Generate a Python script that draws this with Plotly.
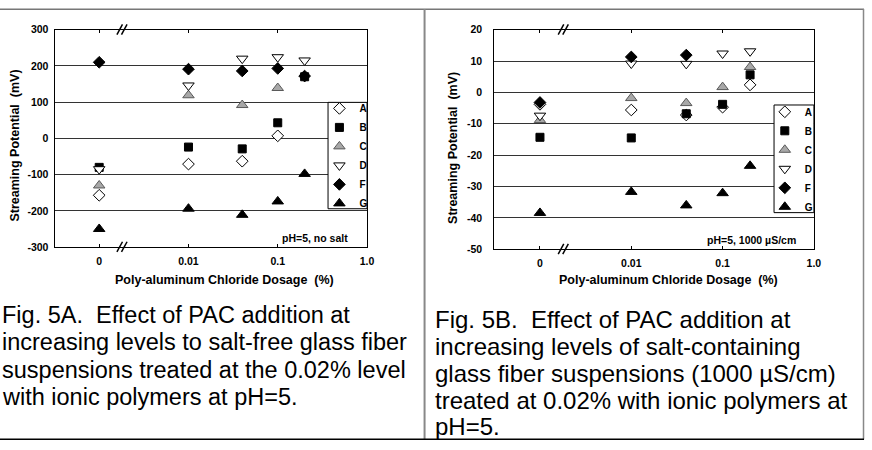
import math
import plotly.graph_objects as go

# ---------------- data ----------------
DOSE = [0, 0.01, 0.04, 0.1, 0.2]          # PAC dosage (%)
ZERO_POS = 0.001                            # where the "0" dose is drawn on the log axis
X_TICKVALS = [0.001, 0.01, 0.1, 1.0]
X_TICKTEXT = ["0", "0.01", "0.1", "1.0"]
SERIES = ["A", "B", "C", "D", "F", "G"]

# Fig. 5A  pH=5, no salt
A_5A = [-157, -71, -63, 7, None]
B_5A = [-80, -24, -29, 43, 170]
C_5A = [-130, 119, 92, 139, None]
D_5A = [-85, 146, 220, 224, 215]
F_5A = [210, 191, 186, 193, 172]
G_5A = [-250, -194, -211, -174, -98]

# Fig. 5B  pH=5, 1000 uS/cm
A_5B = [-3.8, -5.6, -7.2, -4.7, 2.4]
B_5B = [-14.3, -14.5, -6.8, -3.8, 5.6]
C_5B = [-8.8, -1.8, -3.4, 1.7, 8.1]
D_5B = [-7.4, 9.2, 9.1, 12.4, 13.1]
F_5B = [-3.2, 11.3, 11.9, None, None]
G_5B = [-38.4, -31.7, -36.0, -32.1, -23.4]

Y_5A_TICKS = [-300, -200, -100, 0, 100, 200, 300]
Y_5B_TICKS = [-50, -40, -30, -20, -10, 0, 10, 20]
BREAK_AT = 0.0018   # dose position of the axis-break marks
X_RANGE = [-3.5, 0.0]

CAPTION_A = ["Fig. 5A.  Effect of PAC addition at",
             "increasing levels to salt-free glass fiber",
             "suspensions treated at the 0.02% level",
             "with ionic polymers at pH=5."]
CAPTION_B = ["Fig. 5B.  Effect of PAC addition at",
             "increasing levels of salt-containing",
             "glass fiber suspensions (1000 \u00b5S/cm)",
             "treated at 0.02% with ionic polymers at",
             "pH=5."]

# ---------------- styles ----------------
W, H = 872, 450
FONT = "Liberation Sans, Arial, sans-serif"
STYLE = {
    "A": dict(symbol="diamond", size=9, color="white", line=dict(color="black", width=1)),
    "B": dict(symbol="square", size=8, color="black", line=dict(color="black", width=1)),
    "C": dict(symbol="triangle-up", size=10, color="#a8a8a8", line=dict(color="#5a5a5a", width=1)),
    "D": dict(symbol="triangle-down", size=10, color="white", line=dict(color="black", width=1)),
    "F": dict(symbol="diamond", size=9, color="black", line=dict(color="black", width=1)),
    "G": dict(symbol="triangle-up", size=10, color="black", line=dict(color="black", width=1)),
}

def px(x):
    return x / W

def py(y):
    return 1 - y / H

# plot-area pixel boxes (left, right, top, bottom)
BOX_A = (55, 370, 24.3, 247.7)
BOX_B = (498.3, 820.5, 24.3, 250)

xplot = [ZERO_POS if d == 0 else d for d in DOSE]

fig = go.Figure()
data_a = dict(zip(SERIES, [A_5A, B_5A, C_5A, D_5A, F_5A, G_5A]))
data_b = dict(zip(SERIES, [A_5B, B_5B, C_5B, D_5B, F_5B, G_5B]))
for name in SERIES:
    fig.add_trace(go.Scatter(x=xplot, y=data_a[name], mode="markers", name=name,
                             marker=STYLE[name], xaxis="x", yaxis="y",
                             legend="legend", cliponaxis=False))
for name in SERIES:
    fig.add_trace(go.Scatter(x=xplot, y=data_b[name], mode="markers", name=name,
                             marker=STYLE[name], xaxis="x2", yaxis="y2",
                             legend="legend2", cliponaxis=False))

tickfont = dict(family=FONT, size=10.5, color="black", weight="bold")
xcommon = dict(type="log", range=X_RANGE, tickvals=X_TICKVALS, ticktext=X_TICKTEXT,
               ticks="inside", ticklen=3, tickcolor="black", showgrid=False,
               showline=True, linecolor="black", linewidth=1, mirror="ticks",
               tickfont=tickfont, zeroline=False, ticklabelstandoff=4)
ycommon = dict(showgrid=True, gridcolor="#333333", gridwidth=1, zeroline=False,
               showline=True, linecolor="black", linewidth=1, mirror=True,
               ticks="", tickfont=tickfont)

legcommon = dict(bgcolor="rgba(0,0,0,0)", borderwidth=0,
                 font=dict(family=FONT, size=10, color="black", weight="bold"),
                 itemwidth=30, tracegroupgap=0, xanchor="left", yanchor="middle")

fig.update_layout(
    width=W, height=H, margin=dict(l=0, r=0, t=0, b=0),
    paper_bgcolor="white", plot_bgcolor="white",
    xaxis=dict(domain=[px(BOX_A[0]), px(BOX_A[1])], anchor="y", **xcommon),
    yaxis=dict(domain=[py(BOX_A[3]), py(BOX_A[2])], anchor="x", range=[-300, 300],
               tickvals=Y_5A_TICKS, ticktext=[str(v) for v in Y_5A_TICKS],
               ticklabelstandoff=3, **ycommon),
    xaxis2=dict(domain=[px(BOX_B[0]), px(BOX_B[1])], anchor="y2", **xcommon),
    yaxis2=dict(domain=[py(BOX_B[3]), py(BOX_B[2])], anchor="x2", range=[-50, 20],
                tickvals=Y_5B_TICKS, ticktext=[str(v) for v in Y_5B_TICKS],
                ticklabelstandoff=9, **ycommon),
    legend=dict(x=px(322), y=py(154), **legcommon),
    legend2=dict(x=px(771), y=py(157.5), **legcommon),
    showlegend=True,
)

ann = []
title_font = dict(family=FONT, size=12.5, color="black", weight="bold")
ann.append(dict(text="Poly-aluminum Chloride Dosage\u00a0 (%)", x=px(226.7), y=py(281),
                xref="paper", yref="paper", showarrow=False, font=title_font,
                xanchor="center", yanchor="middle"))
ann.append(dict(text="Poly-aluminum Chloride Dosage\u00a0 (%)", x=px(674.3), y=py(281),
                xref="paper", yref="paper", showarrow=False, font=title_font,
                xanchor="center", yanchor="middle"))
ann.append(dict(text="Streaming Potential\u00a0 (mV)", x=px(15), y=py(143.5), textangle=-90,
                xref="paper", yref="paper", showarrow=False, font=title_font,
                xanchor="center", yanchor="middle"))
ann.append(dict(text="Streaming Potential\u00a0 (mV)", x=px(456.7), y=py(145.8), textangle=-90,
                xref="paper", yref="paper", showarrow=False, font=title_font,
                xanchor="center", yanchor="middle"))
small_font = dict(family=FONT, size=10.5, color="black", weight="bold")
ann.append(dict(text="pH=5, no salt", x=px(353), y=py(238.3), xref="paper", yref="paper",
                showarrow=False, font=small_font, xanchor="right", yanchor="middle"))
ann.append(dict(text="pH=5, 1000 \u00b5S/cm", x=px(804.5), y=py(240.7), xref="paper", yref="paper",
                showarrow=False, font=small_font, xanchor="right", yanchor="middle"))

for i, line in enumerate(CAPTION_A):
    ann.append(dict(text=line, x=px(0), y=py(317 + 28.4 * i), xref="paper", yref="paper",
                    showarrow=False, font=dict(family=FONT, size=23.5, color="black"),
                    xanchor="left", yanchor="middle"))
for i, line in enumerate(CAPTION_B):
    ann.append(dict(text=line, x=px(437), y=py(322 + 27.6 * i), xref="paper", yref="paper",
                    showarrow=False, font=dict(family=FONT, size=24, color="black"),
                    xanchor="left", yanchor="middle"))
fig.update_layout(annotations=ann)

shapes = []
# legend frames (white boxes behind the legends)
for (l, r, t, b) in ((330.7, 370, 99, 208.3), (780.3, 820.5, 101.7, 212.3)):
    shapes.append(dict(type="rect", xref="paper", yref="paper", layer="above",
                       x0=px(l), x1=px(r), y0=py(b), y1=py(t),
                       fillcolor="white", line=dict(color="black", width=1)))
# axis-break marks "//" on top and bottom axes
for (l, r, t, b) in (BOX_A, BOX_B):
    xb = l + (math.log10(BREAK_AT) - X_RANGE[0]) / (X_RANGE[1] - X_RANGE[0]) * (r - l)
    for yax in (t, b):
        for off in (-2.3, 2.3):
            shapes.append(dict(type="line", xref="paper", yref="paper",
                               x0=px(xb + off - 2.8), x1=px(xb + off + 2.8),
                               y0=py(yax + 5), y1=py(yax - 5.5),
                               line=dict(color="black", width=1.5)))
# table borders
shapes += [
    dict(type="line", xref="paper", yref="paper", x0=0, x1=px(871), y0=py(3.3), y1=py(3.3),
         line=dict(color="#777777", width=1.5)),
    dict(type="line", xref="paper", yref="paper", x0=px(428), x1=px(428), y0=py(3), y1=py(445),
         line=dict(color="#888888", width=2)),
    dict(type="line", xref="paper", yref="paper", x0=px(870.5), x1=px(870.5), y0=py(3), y1=py(445),
         line=dict(color="#888888", width=1.5)),
    dict(type="line", xref="paper", yref="paper", x0=0, x1=px(871), y0=py(445), y1=py(445),
         line=dict(color="black", width=1.5)),
]
fig.update_layout(shapes=shapes)

fig.write_html("out.html")
